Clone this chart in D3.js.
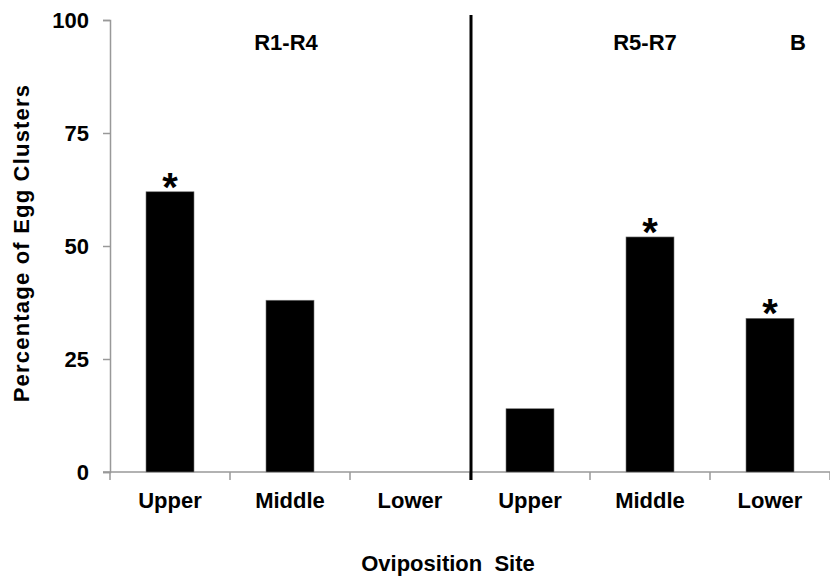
<!DOCTYPE html>
<html>
<head>
<meta charset="utf-8">
<script src="https://cdn.jsdelivr.net/npm/d3@7"></script>
<style>
  html, body { margin: 0; padding: 0; background: #fff; }
  svg text { font-family: "Liberation Sans", Arial, sans-serif; font-weight: bold; fill: #000; }
</style>
</head>
<body>
<svg id="chart" width="830" height="583"></svg>
<script>
// ---- data ----
const categories = ["R1-R4 Upper", "R1-R4 Middle", "R1-R4 Lower", "R5-R7 Upper", "R5-R7 Middle", "R5-R7 Lower"];
const siteLabels = ["Upper", "Middle", "Lower", "Upper", "Middle", "Lower"];
const percentages = [62, 38, 0, 14, 52, 34];
const significant = [true, false, false, false, true, true];
const groupLabels = ["R1-R4", "R5-R7"];
const yTicks = [0, 25, 50, 75, 100];
const panelLetter = "B";
const xTitle = "Oviposition\u00a0\u00a0Site";
const yTitle = "Percentage of Egg Clusters";

// ---- layout ----
const svg = d3.select("#chart");
const mLeft = 110, mRight = 830, mTop = 20, mBottom = 472;

const x = d3.scaleBand().domain(categories).range([mLeft, mRight]).paddingInner(0.6).paddingOuter(0.3);
const y = d3.scaleLinear().domain([0, 100]).range([mBottom, mTop]);

// y axis
const yAxis = svg.append("g").attr("transform", `translate(${mLeft},0)`)
  .call(d3.axisLeft(y).tickValues(yTicks).tickSize(7).tickPadding(14));
yAxis.select(".domain").attr("stroke", "#999").attr("stroke-width", 1.5);
yAxis.selectAll(".tick line").attr("stroke", "#999").attr("stroke-width", 1.5);
yAxis.selectAll(".tick text").style("font-size", "22px").attr("dy", "0.35em");

// x axis line and boundary ticks
const step = x.step();
svg.append("line").attr("x1", mLeft - 7).attr("x2", mRight).attr("y1", mBottom).attr("y2", mBottom)
  .attr("stroke", "#999").attr("stroke-width", 1.5);
const bounds = d3.range(categories.length + 1).map(i => mLeft + i * step);
svg.selectAll("line.xtick").data(bounds).join("line").attr("class", "xtick")
  .attr("x1", d => d).attr("x2", d => d).attr("y1", mBottom).attr("y2", mBottom + 8)
  .attr("stroke", "#999").attr("stroke-width", 1.5);

// category labels
const xAxis = svg.append("g").attr("transform", `translate(0,${mBottom})`)
  .call(d3.axisBottom(x).tickSize(0).tickPadding(20).tickFormat((d, i) => siteLabels[i]));
xAxis.select(".domain").remove();
xAxis.selectAll(".tick text").style("font-size", "22px").attr("dy", "0.71em");

// bars
svg.selectAll("rect.bar").data(categories).join("rect").attr("class", "bar")
  .attr("x", d => x(d)).attr("width", x.bandwidth())
  .attr("y", (d, i) => y(percentages[i]))
  .attr("height", (d, i) => y(0) - y(percentages[i]))
  .attr("fill", "#000").attr("stroke", "#777").attr("stroke-width", 0.6);

// significance asterisks
svg.selectAll("text.star").data(categories.filter((d, i) => significant[i])).join("text").attr("class", "star")
  .attr("x", d => x(d) + x.bandwidth() / 2)
  .attr("y", d => y(percentages[categories.indexOf(d)]) + 9)
  .attr("text-anchor", "middle").style("font-size", "40px").text("*");

// divider between groups
const divX = mLeft + 3 * step + 1;
svg.append("line").attr("x1", divX).attr("x2", divX).attr("y1", 15).attr("y2", 480)
  .attr("stroke", "#000").attr("stroke-width", 3);

// group labels
const groupCenters = [x(categories[1]) + x.bandwidth() / 2 - 4, x(categories[4]) + x.bandwidth() / 2 - 5];
svg.selectAll("text.group").data(groupLabels).join("text").attr("class", "group")
  .attr("x", (d, i) => groupCenters[i]).attr("y", 50)
  .attr("text-anchor", "middle").style("font-size", "22px").text(d => d);

svg.append("text").attr("x", 798).attr("y", 50).attr("text-anchor", "middle")
  .style("font-size", "22px").text(panelLetter);

// axis titles
svg.append("text").attr("x", 448).attr("y", 571).attr("text-anchor", "middle")
  .style("font-size", "22px").text(xTitle);
svg.append("text").attr("transform", "translate(29,243) rotate(-90)").attr("text-anchor", "middle")
  .style("font-size", "22px").style("letter-spacing", "1.2px").text(yTitle);
</script>
</body>
</html>
